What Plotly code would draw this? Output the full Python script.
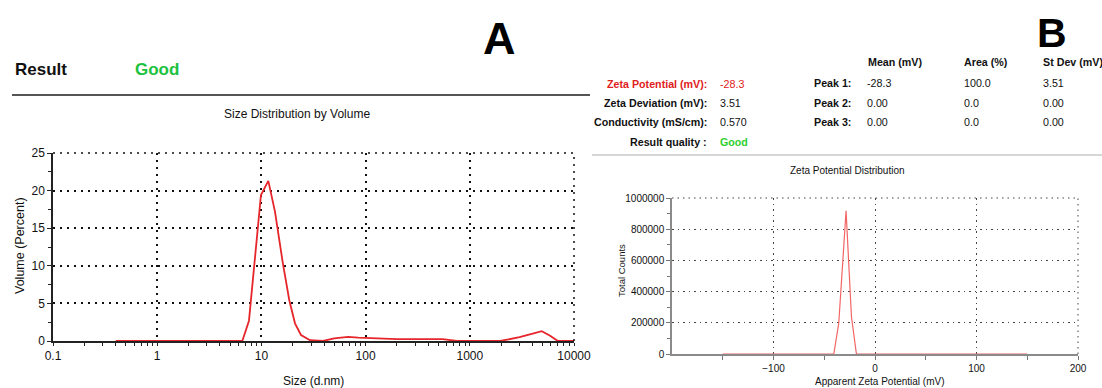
import plotly.graph_objects as go

W, H = 1102, 388

# ---------------- data ----------------
size_nm = [0.4, 6.56, 7.6, 9.9, 11.65, 13.5, 16.0, 18.5, 21.0, 24.0, 29.3, 39, 50, 68, 85, 100,
           160, 200, 550, 750, 1950, 3000, 4100, 4900, 5900, 7000, 10000]
volume_pct = [0, 0, 2.7, 19.4, 21.3, 17.2, 10.5, 5.45, 2.35, 0.8, 0.1, 0, 0.35, 0.55, 0.45, 0.4,
              0.35, 0.25, 0.25, 0, 0, 0.5, 1.0, 1.3, 0.7, 0, 0]

zeta_mv = [-150, -40.6, -35.7, -28.5, -23.2, -18.3, 150]
total_counts = [0, 0, 197000, 918000, 239000, 0, 0]

size_ticks = [0.1, 1, 10, 100, 1000, 10000]
size_ticktext = ["0.1", "1", "10", "100", "1000", "10000"]
vol_ticks = [0, 5, 10, 15, 20, 25]
zeta_ticks = [-100, 0, 100, 200]
count_ticks = [0, 200000, 400000, 600000, 800000, 1000000]

summary_labels = ["Zeta Potential (mV):", "Zeta Deviation (mV):", "Conductivity (mS/cm):", "Result quality :"]
summary_values = ["-28.3", "3.51", "0.570", "Good"]
peak_headers = ["Mean (mV)", "Area (%)", "St Dev (mV)"]
peak_labels = ["Peak 1:", "Peak 2:", "Peak 3:"]
peak_mean = ["-28.3", "0.00", "0.00"]
peak_area = ["100.0", "0.0", "0.0"]
peak_sd = ["3.51", "0.00", "0.00"]

FONT = "Liberation Sans, Arial, sans-serif"


def X(px):
    return px / W


def Y(py):
    return 1 - py / H


minor_size = [m * 10 ** e for e in range(-1, 4) for m in range(2, 10)]
all_size = sorted(size_ticks + minor_size)
minor_vol = [2.5 + 5 * i for i in range(5)]

fig = go.Figure()
fig.add_trace(go.Scatter(x=size_nm, y=volume_pct, mode="lines", xaxis="x", yaxis="y",
                         line=dict(color="#e6262b", width=1.8), showlegend=False))
fig.add_trace(go.Scatter(x=zeta_mv, y=total_counts, mode="lines", xaxis="x2", yaxis="y2",
                         line=dict(color="#f26565", width=1.2), showlegend=False))

DOT_L = "2px,5px"
DOT_R = "1.5px,4px"
grid_l = dict(showgrid=True, gridcolor="#111111", gridwidth=1.5, griddash=DOT_L)
grid_r = dict(showgrid=True, gridcolor="#444444", gridwidth=1, griddash=DOT_R)

xd1 = [X(53), X(574)]
yd1 = [Y(341), Y(153)]
xd2 = [X(672), X(1078)]
yd2 = [Y(354), Y(198)]

fig.update_layout(
    width=W, height=H, margin=dict(l=0, r=0, t=0, b=0, autoexpand=False),
    paper_bgcolor="white", plot_bgcolor="rgba(0,0,0,0)",
    font=dict(family=FONT, color="#111"),
    xaxis=dict(type="log", range=[-1, 4], domain=xd1, anchor="y", showline=True,
               linecolor="#222", linewidth=1.5, ticks="outside", ticklen=3, tickwidth=1.2,
               tickcolor="#222", tickvals=size_ticks, ticktext=size_ticktext,
               tickfont=dict(size=12, family=FONT, color="#111"), zeroline=False,
               automargin=False,
               minor=dict(tickmode="array", tickvals=minor_size, ticks="outside", ticklen=3,
                          tickwidth=1.2, tickcolor="#222", showgrid=False),
               **grid_l),
    yaxis=dict(range=[0, 25], domain=yd1, anchor="x", showline=True, linecolor="#222",
               linewidth=1.5, ticks="outside", ticklen=4, tickwidth=1.2, tickcolor="#222",
               tickvals=vol_ticks, tickfont=dict(size=12, family=FONT, color="#111"),
               zeroline=False, automargin=False,
               minor=dict(tickmode="array", tickvals=minor_vol, ticks="outside", ticklen=3,
                          tickwidth=1.2, tickcolor="#222", showgrid=False),
               **grid_l),
    xaxis3=dict(type="log", range=[-1, 4], domain=xd1, anchor="y", overlaying="x",
                ticks="inside", ticklen=3, tickwidth=1.2, tickcolor="#222", tickvals=all_size,
                showticklabels=False, showgrid=False, showline=False, zeroline=False,
                automargin=False),
    yaxis3=dict(range=[0, 25], domain=yd1, anchor="x", overlaying="y", ticks="inside",
                ticklen=3, tickwidth=1.2, tickcolor="#222",
                tickvals=sorted(vol_ticks + minor_vol), showticklabels=False, showgrid=False,
                showline=False, zeroline=False, automargin=False),
    xaxis2=dict(range=[-200, 200], domain=xd2, anchor="y2", showline=True, linecolor="#8a8a8a",
                linewidth=1.5, ticks="outside", ticklen=4, tickcolor="#777", tickvals=zeta_ticks,
                tickfont=dict(size=10, family=FONT, color="#111"), zeroline=False,
                automargin=False,
                minor=dict(tickmode="array", tickvals=[-150, -50, 50, 150], ticks="outside",
                           ticklen=4, tickcolor="#777", showgrid=False),
                **grid_r),
    yaxis2=dict(range=[0, 1000000], domain=yd2, anchor="x2", showline=True, linecolor="#8a8a8a",
                linewidth=1.5, ticks="outside", ticklen=4, tickcolor="#777", tickvals=count_ticks,
                ticktext=[str(v) for v in count_ticks],
                tickfont=dict(size=10, family=FONT, color="#111"), zeroline=False,
                automargin=False,
                minor=dict(tickmode="array", tickvals=[100000, 300000, 500000, 700000, 900000],
                           ticks="outside", ticklen=3, tickcolor="#777", showgrid=False),
                **grid_r),
)

ann = []


def text(px, py, s, size, color="#111", bold=False, xanchor="left", yanchor="middle", angle=0):
    ann.append(dict(x=X(px), y=Y(py), xref="paper", yref="paper", text=(f"<b>{s}</b>" if bold else s),
                    showarrow=False, xanchor=xanchor, yanchor=yanchor, textangle=angle,
                    font=dict(size=size, color=color, family=FONT)))


# panel A
text(13, 69, "Result", 17, "#111", True)
text(133, 69, "Good", 17, "#1cc23e", True)
text(499, 39, "A", 45, "#000", True, "center")
text(297, 114, "Size Distribution by Volume", 12, "#111", False, "center")
text(20, 246, "Volume (Percent)", 12.5, "#111", False, "center", angle=-90)
text(313, 381, "Size (d.nm)", 12, "#111", False, "center")

# panel B
text(1052, 33, "B", 41, "#000", True, "center")
rows = [84, 103, 122, 141.5]
for i, (lab, val) in enumerate(zip(summary_labels, summary_values)):
    c_lab = "#e02020" if i == 0 else "#111"
    c_val = "#e02020" if i == 0 else ("#2fd02f" if val == "Good" else "#111")
    text(709, rows[i], lab, 10.7, c_lab, True, "right")
    text(718, rows[i], val, 10.7, c_val, val == "Good", "left")

for hx, h in zip([866, 962, 1041], peak_headers):
    text(hx, 62.5, h, 10.7, "#111", True)
prow = [83, 102.7, 121.7]
for i in range(3):
    text(853, prow[i], peak_labels[i], 10.7, "#111", True, "right")
    text(865, prow[i], peak_mean[i], 10.7)
    text(962, prow[i], peak_area[i], 10.7)
    text(1041, prow[i], peak_sd[i], 10.7)

text(847.5, 170, "Zeta Potential Distribution", 10, "#111", False, "center")
text(621, 271, "Total Counts", 9.5, "#111", False, "center", angle=-90)
text(880, 381.5, "Apparent Zeta Potential (mV)", 10, "#111", False, "center")

fig.update_layout(annotations=ann)


def border(xa, ya, color, width, dash):
    return [
        dict(type="line", xref=f"{xa} domain", yref=f"{ya} domain", x0=0, x1=1, y0=1, y1=1,
             line=dict(color=color, width=width, dash=dash)),
        dict(type="line", xref=f"{xa} domain", yref=f"{ya} domain", x0=1, x1=1, y0=0, y1=1,
             line=dict(color=color, width=width, dash=dash)),
    ]


shapes = [
    dict(type="line", xref="paper", yref="paper", x0=X(12), x1=X(590), y0=Y(95), y1=Y(95),
         line=dict(color="#555", width=2)),
    dict(type="line", xref="paper", yref="paper", x0=X(592), x1=X(1102), y0=Y(155), y1=Y(155),
         line=dict(color="#c8c8c8", width=1.5)),
]
shapes += border("x", "y", "#111111", 1.5, DOT_L)
shapes += border("x2", "y2", "#444444", 1, DOT_R)
fig.update_layout(shapes=shapes)

fig.write_html("out.html")
